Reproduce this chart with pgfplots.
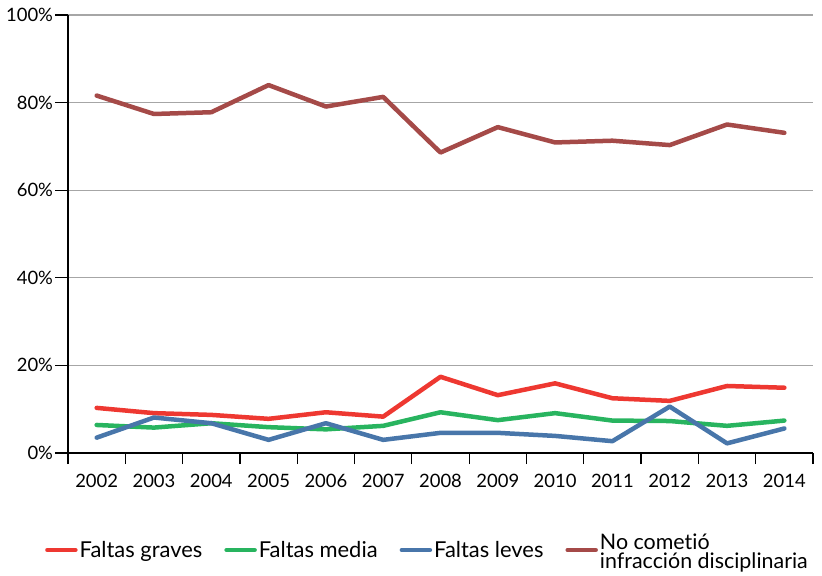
\documentclass[border=0pt]{standalone}
\usepackage{fontspec}
\setmainfont{Lato}[Ligatures=NoCommon]
\usepackage{pgfplots}
\pgfplotsset{compat=1.18}
\definecolor{cred}{RGB}{238,56,49}
\definecolor{cgreen}{RGB}{40,180,95}
\definecolor{cblue}{RGB}{72,118,170}
\definecolor{cbrown}{RGB}{165,74,72}
\begin{document}
\begin{tikzpicture}
\begin{axis}[
  scale only axis,
  width=745bp, height=438bp,
  xmin=-0.5, xmax=12.5,
  ymin=0, ymax=100,
  axis x line*=bottom, axis y line*=left,
  axis line style={line width=1.2bp, black},
  xtick={0,...,12},
  xticklabels={2002,2003,2004,2005,2006,2007,2008,2009,2010,2011,2012,2013,2014},
  major x tick style={draw=none},
  minor xtick={-0.5,0.5,...,12.5},
  minor x tick style={line width=1.2bp, black},
  minor tick length=11bp,
  xtick pos=bottom,
  ytick={0,20,...,100},
  yticklabel={\pgfmathprintnumber{\tick}\%},
  ytick style={line width=1.2bp, black},
  major tick length=13bp,
  tick align=outside,
  ytick pos=left,
  ymajorgrids,
  grid style={line width=1.2bp, gray!70},
  ticklabel style={font=\fontsize{18.5}{22}\selectfont},
  /pgf/number format/assume math mode=true,
  xticklabel style={yshift=-5bp},
  yticklabel style={xshift=1.5bp},
  clip=false,
  every axis plot/.append style={line width=4.5bp, line join=round, line cap=round},
  legend columns=4,
  legend style={draw=none, fill=none, at={(-0.0309,-0.2215)}, anchor=west,
    font=\fontsize{22}{19}\selectfont, inner sep=0pt,
    /tikz/every even column/.append style={column sep=20bp},
    /tikz/column 4/.append style={column sep=12bp},
    nodes={inner sep=2bp}},
  legend cell align=left,
  legend image code/.code={\draw[#1,line width=4.5bp,line cap=round] (0bp,0bp) -- (28bp,0bp);},
]
\coordinate (o) at (rel axis cs:0,0);
\addplot[cred] coordinates {(0,10.3)(1,9.1)(2,8.7)(3,7.8)(4,9.3)(5,8.3)(6,17.4)(7,13.2)(8,15.9)(9,12.5)(10,11.9)(11,15.3)(12,14.9)};
\addlegendentry{Faltas graves}
\addplot[cgreen] coordinates {(0,6.4)(1,5.8)(2,6.8)(3,5.9)(4,5.4)(5,6.2)(6,9.3)(7,7.5)(8,9.1)(9,7.4)(10,7.3)(11,6.2)(12,7.4)};
\addlegendentry{Faltas media}
\addplot[cblue] coordinates {(0,3.5)(1,8.1)(2,6.8)(3,3.0)(4,6.8)(5,3.0)(6,4.6)(7,4.6)(8,3.9)(9,2.7)(10,10.6)(11,2.2)(12,5.6)};
\addlegendentry{Faltas leves}
\addplot[cbrown] coordinates {(0,81.6)(1,77.4)(2,77.8)(3,84.0)(4,79.1)(5,81.3)(6,68.6)(7,74.4)(8,70.9)(9,71.3)(10,70.3)(11,75.0)(12,73.1)};
\addlegendentry{\fontsize{21.5}{19.5}\selectfont\parbox[c]{215bp}{No cometió\\infracción disciplinaria\rule[-17bp]{0pt}{17bp}}}
\end{axis}
\pgfresetboundingbox
\path[use as bounding box] ([shift={(-68bp,-123bp)}]o) rectangle ([shift={(754bp,453bp)}]o);
\end{tikzpicture}
\end{document}
